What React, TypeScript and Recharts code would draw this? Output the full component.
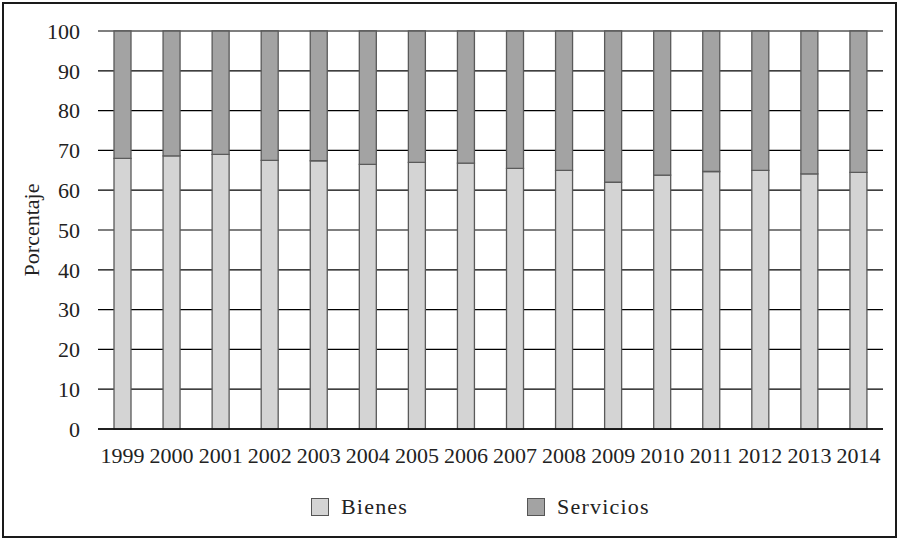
import React from 'react';
import { BarChart, Bar, XAxis, YAxis, CartesianGrid, Legend, Label } from 'recharts';

const years = ['1999', '2000', '2001', '2002', '2003', '2004', '2005', '2006', '2007', '2008', '2009', '2010', '2011', '2012', '2013', '2014'];
const bienes = [68.0, 68.6, 69.0, 67.5, 67.4, 66.5, 67.0, 66.8, 65.5, 65.0, 62.0, 63.8, 64.7, 65.0, 64.1, 64.5];
const servicios = [32.0, 31.4, 31.0, 32.5, 32.6, 33.5, 33.0, 33.2, 34.5, 35.0, 38.0, 36.2, 35.3, 35.0, 35.9, 35.5];
const yTicks = [0, 10, 20, 30, 40, 50, 60, 70, 80, 90, 100];
const seriesNames = ['Bienes', 'Servicios'];
const seriesColors = ['#d4d4d4', '#a3a3a3'];

const data = years.map((y, i) => ({ year: y, Bienes: bienes[i], Servicios: servicios[i] }));

const FONT = '"Liberation Serif", "Times New Roman", serif';
const TEXT = '#222';

const LegendContent = () => (
  <div style={{ display: 'flex', alignItems: 'center', paddingLeft: 311, fontFamily: FONT, fontSize: 22, color: TEXT, letterSpacing: 1.2 }}>
    {seriesNames.map((n, i) => (
      <div key={n} style={{ display: 'flex', alignItems: 'center', marginRight: i === 0 ? 119 : 0 }}>
        <div style={{ width: 16, height: 16, background: seriesColors[i], border: '1px solid #555', marginRight: 12 }} />
        <span>{n}</span>
      </div>
    ))}
  </div>
);

export default function App() {
  return (
    <div style={{ position: 'absolute', left: 0, top: 0, width: 899, height: 539, background: '#fff' }}>
      <div style={{ position: 'absolute', left: 2, top: 2, width: 895, height: 536, boxSizing: 'border-box', border: '2px solid #1a1a1a' }} />
      <div style={{ position: 'absolute', left: 0, top: 0 }}>
        <BarChart width={899} height={539} data={data} margin={{ top: 31, right: 16, bottom: 70, left: 0 }} barSize={17}>
          <CartesianGrid vertical={false} stroke="#000" strokeWidth={1.2} />
          <XAxis
            dataKey="year"
            height={40}
            axisLine={{ stroke: '#000', strokeWidth: 1.5 }}
            tickLine={false}
            tickSize={0}
            tickMargin={18}
            interval={0}
            tick={{ fill: TEXT, fontSize: 22, fontFamily: FONT }}
          />
          <YAxis
            width={98}
            domain={[0, 100]}
            ticks={yTicks}
            axisLine={false}
            tickLine={false}
            tickSize={0}
            tickMargin={18}
            tick={{ fill: TEXT, fontSize: 22, fontFamily: FONT }}
          >
            <Label value="Porcentaje" angle={-90} position="center" dx={-18} style={{ fill: TEXT, fontSize: 22, fontFamily: FONT }} />
          </YAxis>
          <Legend verticalAlign="middle" layout="horizontal" wrapperStyle={{ top: 494, left: 0, width: 899 }} content={<LegendContent />} />
          <Bar dataKey="Bienes" stackId="a" fill={seriesColors[0]} stroke="#5a5a5a" strokeWidth={1.3} isAnimationActive={false} />
          <Bar dataKey="Servicios" stackId="a" fill={seriesColors[1]} stroke="#5a5a5a" strokeWidth={1.3} isAnimationActive={false} />
        </BarChart>
      </div>
    </div>
  );
}
